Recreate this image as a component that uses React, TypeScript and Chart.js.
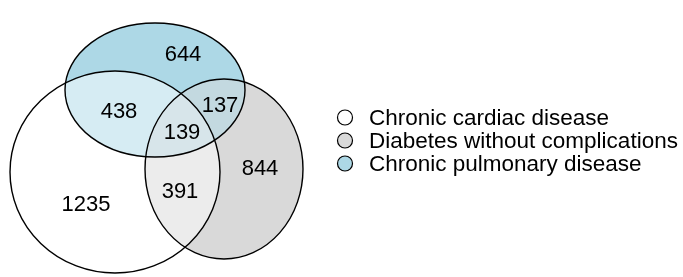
import React, { useEffect, useRef } from "react";
import { Chart, registerables } from "chart.js";

Chart.register(...registerables);

// ---- data ----
const SET_NAMES = ["Chronic cardiac disease", "Diabetes without complications", "Chronic pulmonary disease"];
const SET_COLORS = ["#ffffff", "#d9d9d9", "#add8e6"];
// region keys: which sets (0=cardiac, 1=diabetes, 2=pulmonary)
const REGION_SETS: number[][] = [[0], [1], [2], [0, 1], [0, 2], [1, 2], [0, 1, 2]];
const REGION_COUNTS = [1235, 844, 644, 391, 438, 137, 139];

// ---- layout (data units == pixels of the 683x277 plane) ----
const ELLIPSES = [
  { cx: 115, cy: 172, rx: 105, ry: 101 },
  { cx: 224, cy: 169, rx: 79, ry: 90 },
  { cx: 155, cy: 90, rx: 90, ry: 67 },
];
const LABEL_POS = [
  { x: 86, y: 204 },
  { x: 260, y: 168 },
  { x: 183, y: 54 },
  { x: 180, y: 191 },
  { x: 119, y: 111 },
  { x: 220, y: 105 },
  { x: 182, y: 132 },
];
const LEGEND = { x: 345, y: 117.5, r: 7.5, gap: 23, textX: 369 };
const FONT = "'Liberation Sans', Arial, Helvetica, sans-serif";

function hexToRgb(h: string) {
  const n = parseInt(h.slice(1), 16);
  return [(n >> 16) & 255, (n >> 8) & 255, n & 255];
}
function mix(idx: number[]) {
  const c = [0, 0, 0];
  idx.forEach((i) => {
    const r = hexToRgb(SET_COLORS[i]);
    c[0] += r[0]; c[1] += r[1]; c[2] += r[2];
  });
  return `rgb(${c.map((v) => Math.round(v / idx.length)).join(",")})`;
}

const vennPlugin = {
  id: "venn",
  beforeDatasetsDraw(chart: any) {
    const { ctx, scales } = chart;
    const xs = scales.x, ys = scales.y;
    const path = (i: number) => {
      const e = ELLIPSES[i];
      const cx = xs.getPixelForValue(e.cx), cy = ys.getPixelForValue(e.cy);
      const rx = Math.abs(xs.getPixelForValue(e.cx + e.rx) - cx);
      const ry = Math.abs(ys.getPixelForValue(e.cy + e.ry) - cy);
      ctx.beginPath();
      ctx.ellipse(cx, cy, rx, ry, 0, 0, Math.PI * 2);
    };
    ctx.save();
    // fill each region by clipping
    REGION_SETS.forEach((sets) => {
      ctx.save();
      for (let k = 0; k < sets.length - 1; k++) {
        path(sets[k]);
        ctx.clip();
      }
      path(sets[sets.length - 1]);
      ctx.fillStyle = mix(sets);
      ctx.fill();
      ctx.restore();
    });
    ctx.lineWidth = 1.4;
    ctx.strokeStyle = "#000";
    [0, 1, 2].forEach((i) => {
      path(i);
      ctx.stroke();
    });
    // legend
    ctx.font = `22.5px ${FONT}`;
    ctx.textBaseline = "middle";
    ctx.textAlign = "left";
    SET_NAMES.forEach((name, i) => {
      const y = LEGEND.y + i * LEGEND.gap;
      ctx.beginPath();
      ctx.arc(LEGEND.x, y, LEGEND.r, 0, Math.PI * 2);
      ctx.fillStyle = SET_COLORS[i];
      ctx.fill();
      ctx.lineWidth = 1.2;
      ctx.strokeStyle = "#000";
      ctx.stroke();
      ctx.fillStyle = "#000";
      ctx.fillText(name, LEGEND.textX, y + 1);
    });
    ctx.restore();
  },
  afterDatasetsDraw(chart: any) {
    const { ctx } = chart;
    const meta = chart.getDatasetMeta(0);
    ctx.save();
    ctx.font = `22px ${FONT}`;
    ctx.fillStyle = "#000";
    ctx.textAlign = "center";
    ctx.textBaseline = "middle";
    meta.data.forEach((pt: any, i: number) => {
      ctx.fillText(String(REGION_COUNTS[i]), pt.x, pt.y + 1);
    });
    ctx.restore();
  },
};

export default function App() {
  const ref = useRef<HTMLCanvasElement>(null);
  useEffect(() => {
    document.body.style.margin = "0";
    const chart = new Chart(ref.current!, {
      type: "scatter",
      data: {
        datasets: [
          {
            label: "regions",
            data: LABEL_POS.map((p) => ({ x: p.x, y: p.y })),
            pointRadius: 0,
            pointHoverRadius: 0,
          },
        ],
      },
      options: {
        animation: false,
        responsive: true,
        maintainAspectRatio: false,
        layout: { padding: 0 },
        scales: {
          x: { type: "linear", min: 0, max: 683, display: false },
          y: { type: "linear", min: 0, max: 277, reverse: true, display: false },
        },
        plugins: { legend: { display: false }, tooltip: { enabled: false } },
      },
      plugins: [vennPlugin],
    });
    return () => chart.destroy();
  }, []);
  return (
    <div style={{ position: "fixed", left: 0, top: 0, width: 683, height: 277, background: "#fff" }}>
      <canvas ref={ref} />
    </div>
  );
}
